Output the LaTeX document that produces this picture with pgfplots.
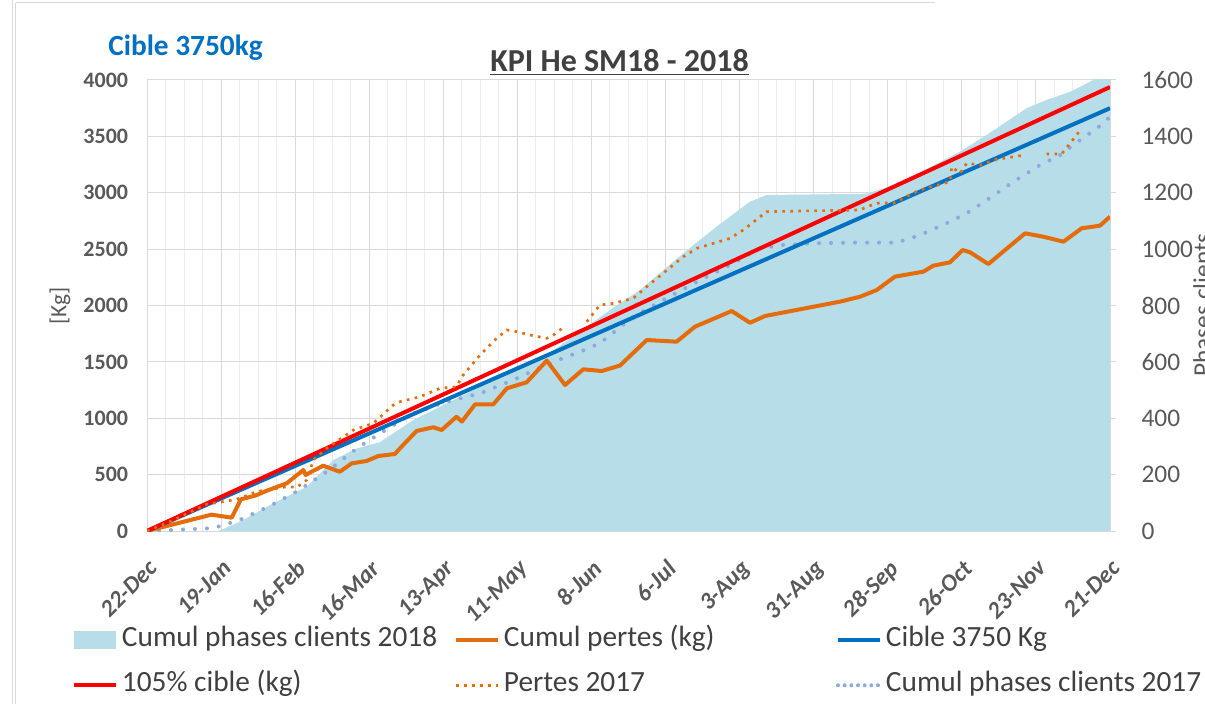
\documentclass[border=0pt]{standalone}
\usepackage{pgfplots}
\pgfplotsset{compat=1.18}
\usepackage{fontspec}
\setmainfont{Carlito}
\definecolor{areacol}{HTML}{B7DDE8}
\definecolor{orng}{HTML}{E46C0A}
\definecolor{bl}{HTML}{0070C0}
\definecolor{dotbl}{HTML}{8EA9DB}
\definecolor{gridmaj}{HTML}{D9D9D9}
\definecolor{gridmin}{HTML}{EDEDED}
\definecolor{txt}{HTML}{595959}
\definecolor{leg}{HTML}{404040}
\begin{document}
\begin{tikzpicture}
\path[use as bounding box] (0pt,0pt) rectangle (903.75pt,528pt);
\clip (0pt,0pt) rectangle (903.75pt,528pt);
\begin{scope}[x=0.75pt,y=0.75pt]
\draw[gridmaj, line width=0.75pt] (12.5,0) -- (12.5,704);
\draw[gridmaj, line width=0.75pt] (15.5,701) -- (15.5,0);
\draw[gridmaj, line width=0.75pt] (15.5,701) -- (935,701);
\end{scope}

\begin{axis}[
  at={(110.25pt,129.75pt)}, anchor=south west,
  scale only axis, width=722.25pt, height=338.25pt,
  xmin=0, xmax=364, ymin=0, ymax=1600,
  axis y line*=right,
  axis line style={gridmaj, line width=0.75pt},
  xtick={0,28,...,364},
  xticklabels={22-Dec,19-Jan,16-Feb,16-Mar,13-Apr,11-May,8-Jun,6-Jul,3-Aug,31-Aug,28-Sep,26-Oct,23-Nov,21-Dec},
  minor x tick num=3,
  ytick={0,200,...,1600},
  yticklabels={0,200,400,600,800,1000,1200,1400,1600},
  xmajorgrids, xminorgrids, ymajorgrids,
  major grid style={gridmaj, line width=0.75pt},
  minor grid style={gridmin, line width=0.75pt},
  x tick style={draw=none},
  minor tick length=0pt,
  y tick style={gridmaj, line width=0.75pt},
  major tick length=4.5pt,
  tick align=outside,
  xticklabel style={font=\fontsize{18}{20}\selectfont\bfseries\itshape, text=txt, yshift=-16pt, rotate=45, anchor=north east, inner sep=0pt},
  yticklabel style={font=\fontsize{19}{22}\selectfont, text=txt, anchor=west, inner sep=0pt, xshift=19pt},
]
\addplot[fill=areacol, draw=none] coordinates {
(0,0) (27,0) (35.2,33) (47.7,98) (60.4,157) (70.4,252) (79.3,293) (88,315) (100.7,394) (126,512) (152,630) (175,784) (186.3,855) (202.7,985) (215.3,1080) (227.9,1168) (234.2,1192) (270,1196) (272.5,1198) (284.6,1234) (307.3,1346) (317.4,1405) (332.5,1500) (340,1529) (348.9,1558) (357.7,1600) (364,1640)
} \closedcycle;
\addplot[dotbl, line width=3pt, line cap=round, dash pattern=on 0pt off 9pt] coordinates {
(0,0) (25,10) (35,39) (46.5,89) (56.6,140) (67.9,210) (79.3,293) (88,346) (100.7,418) (113.3,459) (125.9,488) (138.5,536) (151.1,591) (163.7,636) (171.2,666) (183.8,760) (196.4,826) (209,890) (221.6,950) (231.7,1003) (240.5,1015) (253.1,1021) (268.3,1023) (283.4,1023) (292.2,1050) (302.3,1092) (309.8,1127) (317.4,1174) (327.5,1239) (337.5,1298) (345.1,1334) (352.7,1387) (359,1428) (363.4,1464)
};
\end{axis}

\begin{axis}[
  at={(110.25pt,129.75pt)}, anchor=south west,
  scale only axis, width=722.25pt, height=338.25pt,
  xmin=0, xmax=364, ymin=0, ymax=4000,
  axis y line*=left, hide x axis,
  axis line style={gridmaj, line width=0.75pt},
  ytick={0,500,...,4000},
  yticklabels={0,500,1000,1500,2000,2500,3000,3500,4000},
  y tick style={draw=none},
  yticklabel style={font=\fontsize{16.5}{20}\selectfont\bfseries, text=txt, anchor=east, inner sep=0pt, xshift=-14pt},
  unbounded coords=jump,
  legend columns=3,
  legend style={at={(-0.0779,-0.212)}, anchor=north west, draw=none, fill=none, inner sep=0pt, outer sep=0pt,
    font=\fontsize{22}{26}\selectfont, text=leg, column sep=0pt, row sep=14pt,
    nodes={inner sep=0pt, text height=15pt, text depth=5pt},
    /tikz/every odd column/.append style={column sep=3pt}},
  legend cell align=left,
  legend image code/.code={\draw[#1] (0pt,0pt) -- (31.5pt,0pt);},
]
\addlegendimage{legend image code/.code={\fill[areacol] (0pt,-6.4pt) rectangle (31pt,6.4pt);}}
\addlegendentry{\makebox[249pt][l]{Cumul phases clients 2018}}
\addplot[orng, line width=3pt, line join=round] coordinates {
(0,0) (24.4,145) (32,118) (35.5,281) (40.8,313) (45.9,363) (52.8,423) (59.1,541) (60,497) (62.2,526) (66.6,579) (72.9,526) (77.4,600) (83,621) (87.4,665) (93.7,683) (95.6,733) (101.9,887) (108.2,920) (111.4,896) (117,1014) (119,970) (124,1123) (130.9,1123) (136,1265) (143.5,1319) (151.1,1511) (158,1295) (164.9,1434) (171.9,1419) (178.8,1468) (188.9,1694) (200.2,1679) (207.1,1812) (221,1951) (227.9,1847) (233.6,1907) (261.9,2034) (269.5,2078) (275.8,2137) (282.7,2256) (293.4,2300) (297.2,2353) (303.5,2383) (308.3,2492) (311.1,2472) (318,2368) (331.9,2640) (338.8,2610) (346.4,2566) (353.3,2685) (360.2,2708) (364,2788)
};
\addlegendentry{\makebox[249pt][l]{Cumul pertes (kg)}}
\addplot[bl, line width=3pt] coordinates {(0,0) (364,3750)};
\addlegendentry{Cible 3750 Kg}
\addplot[red, line width=3pt] coordinates {(0,0) (364,3937.5)};
\addlegendentry{\makebox[249pt][l]{105\% cible (kg)}}
\addplot[orng, line width=2pt, dash pattern=on 2pt off 4pt] coordinates {
(0,0) (10,97) (22.6,239) (26.3,251) (33.9,281) (41.5,349) (52.8,393) (56.6,387) (60.4,452) (62.9,630) (67.9,733) (78,896) (85.5,955) (93.1,1117) (95.6,1147) (103.2,1191) (110.7,1265) (117,1280) (119,1369) (125.9,1561) (132.2,1709) (136,1783) (139.7,1768) (144.8,1738) (151.1,1709) (153.6,1738) (157.4,1806) (161,nan) (166.2,1856) (171.2,2004) (176.3,2019) (183.8,2064) (188.9,2167) (202.7,2433) (207.8,2507) (220.4,2596) (225.4,2670) (234.2,2832) (246.8,2838) (269.5,2847) (272,2876) (277,2912) (282,2906) (292,3024) (303.5,3098) (304.2,3231) (307.3,3172) (309.8,3261) (315,3246) (321.2,3296) (331.9,3335) (336,nan) (340,3344) (345.7,3344) (348.9,3438) (353.3,3571)
};
\addlegendentry{\makebox[249pt][l]{Pertes 2017}}
\addlegendimage{dotbl, line width=3pt, line cap=round, dash pattern=on 0pt off 5pt}
\addlegendentry{Cumul phases clients 2017}
\end{axis}

\begin{scope}[x=0.75pt,y=0.75pt]
\node[anchor=base, inner sep=0pt, font=\fontsize{24}{28}\selectfont\bfseries, text=leg] at (619.5,632) {\underline{KPI He SM18 - 2018}};
\node[anchor=base west, inner sep=0pt, font=\fontsize{22}{26}\selectfont\bfseries, text=bl] at (108,648) {Cible 3750kg};
\node[rotate=90, inner sep=0pt, font=\fontsize{17.5}{20}\selectfont, text=txt] at (60,398) {[Kg]};
\node[rotate=90, anchor=north, inner sep=0pt, font=\fontsize{19}{22}\selectfont, text=txt] at (1193,399) {Phases clients};
\end{scope}
\end{tikzpicture}
\end{document}
